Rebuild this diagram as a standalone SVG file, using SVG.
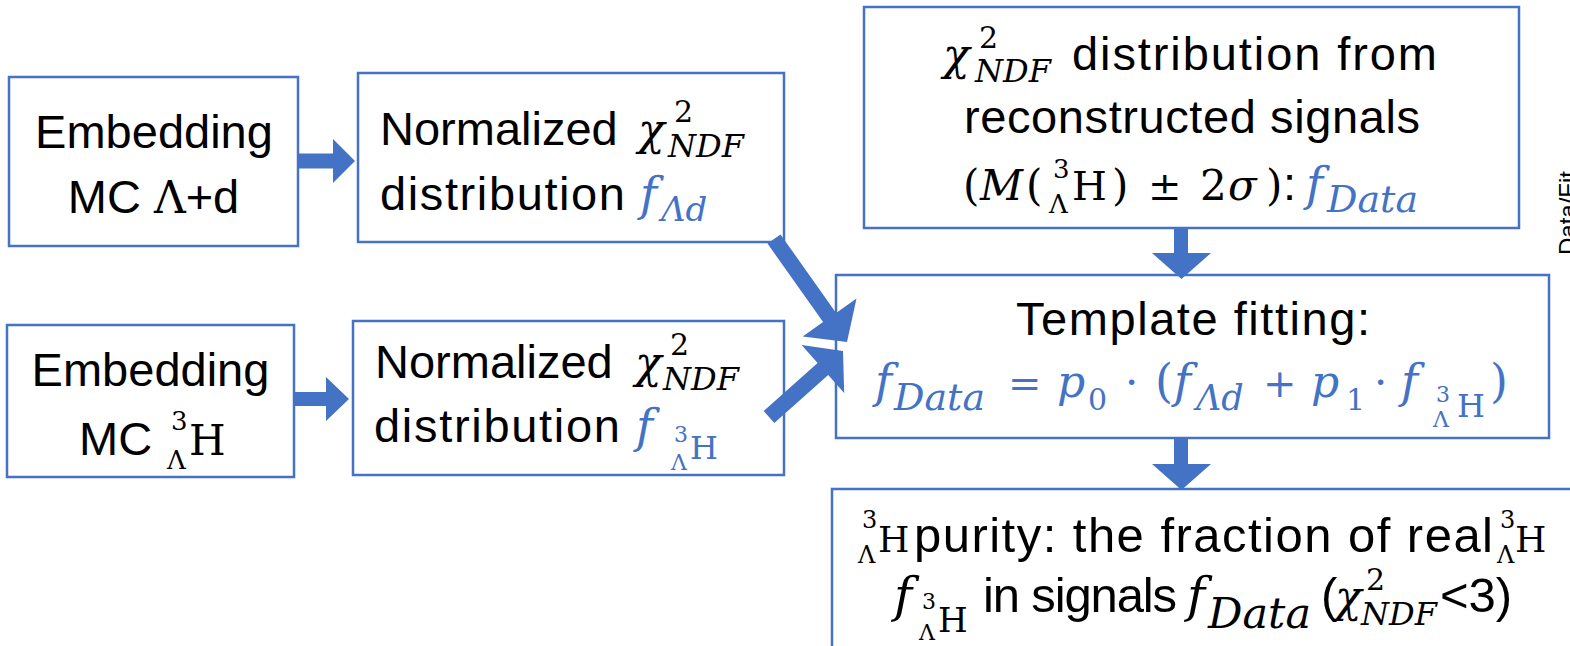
<svg xmlns="http://www.w3.org/2000/svg" width="1570" height="646" viewBox="0 0 1570 646">
<style>
.box{fill:#fff;stroke:#4472C4;stroke-width:2.5}
.arr{fill:#4472C4}
.s{font-family:"Liberation Sans",Arial,sans-serif;font-size:47px;fill:#000}
.g{font-size:49px}
.mi{font-family:"DejaVu Serif","Liberation Serif",serif;font-style:italic;fill:#000}
.mr{font-family:"DejaVu Serif","Liberation Serif",serif;font-style:normal;fill:#000}
.bl{fill:#4472C4}
.ax{font-family:"Liberation Sans",Arial,sans-serif;font-size:24px;fill:#000}
</style>
<rect width="1570" height="646" fill="#fff"/>
<text class="ax" transform="translate(1576,255) rotate(-90)">Data/Fit</text>

<g id="nodeA">
<rect class="box" x="9" y="77" width="289" height="169"/>
<text class="s" x="154" y="148" text-anchor="middle">Embedding</text>
<text class="s" x="153.5" y="213" text-anchor="middle">MC <tspan class="mr" font-size="44">Λ</tspan>+d</text>
</g>

<g id="nodeB">
<rect class="box" x="358" y="73" width="426" height="169"/>
<text class="s" x="380" y="145">Normalized</text>
<text class="mi" x="638" y="145" font-size="44">χ</text>
<text class="mr" x="674" y="122" font-size="30">2</text>
<text class="mi" x="668" y="157" font-size="32">NDF</text>
<text class="s" x="380" y="209.5" textLength="245" lengthAdjust="spacing">distribution</text>
<text class="mi bl" x="640" y="209.5" font-size="46">f</text>
<text class="mi bl" x="661" y="221" font-size="34">Λd</text>
</g>

<g id="nodeC">
<rect class="box" x="7" y="325" width="287" height="152"/>
<text class="s" x="150.5" y="386" text-anchor="middle">Embedding</text>
<text class="s" x="79" y="455">MC</text>
<text class="mr" x="171" y="430" font-size="26">3</text>
<text class="mr" x="167" y="469" font-size="26">Λ</text>
<text class="mr" x="189" y="455" font-size="42">H</text>
</g>

<g id="nodeD">
<rect class="box" x="353" y="321" width="431" height="154"/>
<text class="s" x="375" y="378">Normalized</text>
<text class="mi" x="635" y="378" font-size="44">χ</text>
<text class="mr" x="670" y="355" font-size="30">2</text>
<text class="mi" x="663" y="390" font-size="32">NDF</text>
<text class="s" x="374" y="442" textLength="246" lengthAdjust="spacing">distribution</text>
<text class="mi bl" x="636" y="442" font-size="46">f</text>
<text class="mr bl" x="674" y="442" font-size="22">3</text>
<text class="mr bl" x="671" y="470" font-size="22">Λ</text>
<text class="mr bl" x="690" y="459" font-size="32">H</text>
</g>

<g id="nodeE">
<rect class="box" x="864" y="7" width="655" height="221"/>
<text class="mi" x="943" y="70" font-size="44">χ</text>
<text class="mr" x="979" y="48" font-size="30">2</text>
<text class="mi" x="975" y="82" font-size="32">NDF</text>
<text class="s" x="1072" y="70" textLength="365" lengthAdjust="spacing">distribution from</text>
<text class="s" x="964" y="133" textLength="456" lengthAdjust="spacing">reconstructed signals</text>
<text class="mr" x="963" y="200" font-size="42">(</text>
<text class="mi" x="980" y="200" font-size="42">M</text>
<text class="mr" x="1026" y="200" font-size="42">(</text>
<text class="mr" x="1053" y="178" font-size="26">3</text>
<text class="mr" x="1049" y="213" font-size="26">Λ</text>
<text class="mr" x="1072" y="200" font-size="40">H</text>
<text class="mr" x="1112" y="200" font-size="42">)</text>
<text class="mr" x="1148" y="200" font-size="40">±</text>
<text class="mr" x="1200" y="200" font-size="42">2</text>
<text class="mi" x="1228" y="200" font-size="42">σ</text>
<text class="mr" x="1266" y="200" font-size="42">)</text>
<text class="s" x="1283" y="200">:</text>
<text class="mi bl" x="1306" y="200" font-size="46">f</text>
<text class="mi bl" x="1327" y="212" font-size="38">Data</text>
</g>

<g id="nodeF">
<rect class="box" x="836" y="275" width="713" height="163"/>
<text class="s" x="1016" y="335" textLength="354" lengthAdjust="spacing">Template fitting:</text>
<text class="mi bl" x="875" y="397" font-size="46">f</text>
<text class="mi bl" x="894" y="410" font-size="38">Data</text>
<text class="mr bl" x="1008" y="397" font-size="40">=</text>
<text class="mi bl" x="1057" y="397" font-size="44">p</text>
<text class="mr bl" x="1088" y="410" font-size="30">0</text>
<text class="mr bl" x="1125" y="397" font-size="42">·</text>
<text class="mr bl" x="1155" y="397" font-size="46">(</text>
<text class="mi bl" x="1174" y="397" font-size="46">f</text>
<text class="mi bl" x="1196" y="410" font-size="35">Λd</text>
<text class="mr bl" x="1263" y="397" font-size="40">+</text>
<text class="mi bl" x="1311" y="397" font-size="44">p</text>
<text class="mr bl" x="1346" y="410" font-size="30">1</text>
<text class="mr bl" x="1374" y="397" font-size="42">·</text>
<text class="mi bl" x="1401" y="397" font-size="46">f</text>
<text class="mr bl" x="1436" y="402" font-size="22">3</text>
<text class="mr bl" x="1433" y="427" font-size="22">Λ</text>
<text class="mr bl" x="1457" y="417" font-size="32">H</text>
<text class="mr bl" x="1490" y="397" font-size="46">)</text>
</g>

<g id="nodeG">
<rect class="box" x="832" y="489" width="760" height="200"/>
<text class="mr" x="862" y="528" font-size="24">3</text>
<text class="mr" x="858" y="563" font-size="24">Λ</text>
<text class="mr" x="878" y="552" font-size="36">H</text>
<text class="s g" x="914" y="552" textLength="579" lengthAdjust="spacing">purity: the fraction of real</text>
<text class="mr" x="1500" y="528" font-size="24">3</text>
<text class="mr" x="1497" y="563" font-size="24">Λ</text>
<text class="mr" x="1515" y="552" font-size="36">H</text>
<text class="mi" x="894" y="612" font-size="49">f</text>
<text class="mr" x="922" y="609" font-size="22">3</text>
<text class="mr" x="919" y="640" font-size="22">Λ</text>
<text class="mr" x="938" y="632" font-size="34">H</text>
<text class="s g" x="983" y="612" textLength="194" lengthAdjust="spacing">in signals</text>
<text class="mi" x="1187" y="612" font-size="49">f</text>
<text class="mi" x="1208" y="628" font-size="43">Data</text>
<text class="s g" x="1321" y="612">(</text>
<text class="mi" x="1335" y="612" font-size="44">χ</text>
<text class="mr" x="1366" y="590" font-size="30">2</text>
<text class="mi" x="1361" y="625" font-size="32">NDF</text>
<text class="s g" x="1440" y="612">&lt;3)</text>
</g>

<g id="connectors">
<polygon class="arr" points="298,153.5 333,153.5 333,139 355,161 333,183 333,168.5 298,168.5"/>
<polygon class="arr" points="294,392 326,392 326,377 349,399 326,421 326,406 294,406"/>
<polygon class="arr" points="780.5,234.4 836.1,312.9 856.5,298.4 847,342 802.7,336.6 823.1,322.1 767.5,243.6"/>
<polygon class="arr" points="774.3,423 828.2,375 844.2,392.9 843,351 801.6,345.1 817.6,363 763.7,411"/>
<polygon class="arr" points="1174,228 1188,228 1188,253 1211,253 1181.5,279 1152,253 1174,253"/>
<polygon class="arr" points="1174,438 1188,438 1188,464 1211,464 1181.5,490 1152,464 1174,464"/>
</g>
</svg>
